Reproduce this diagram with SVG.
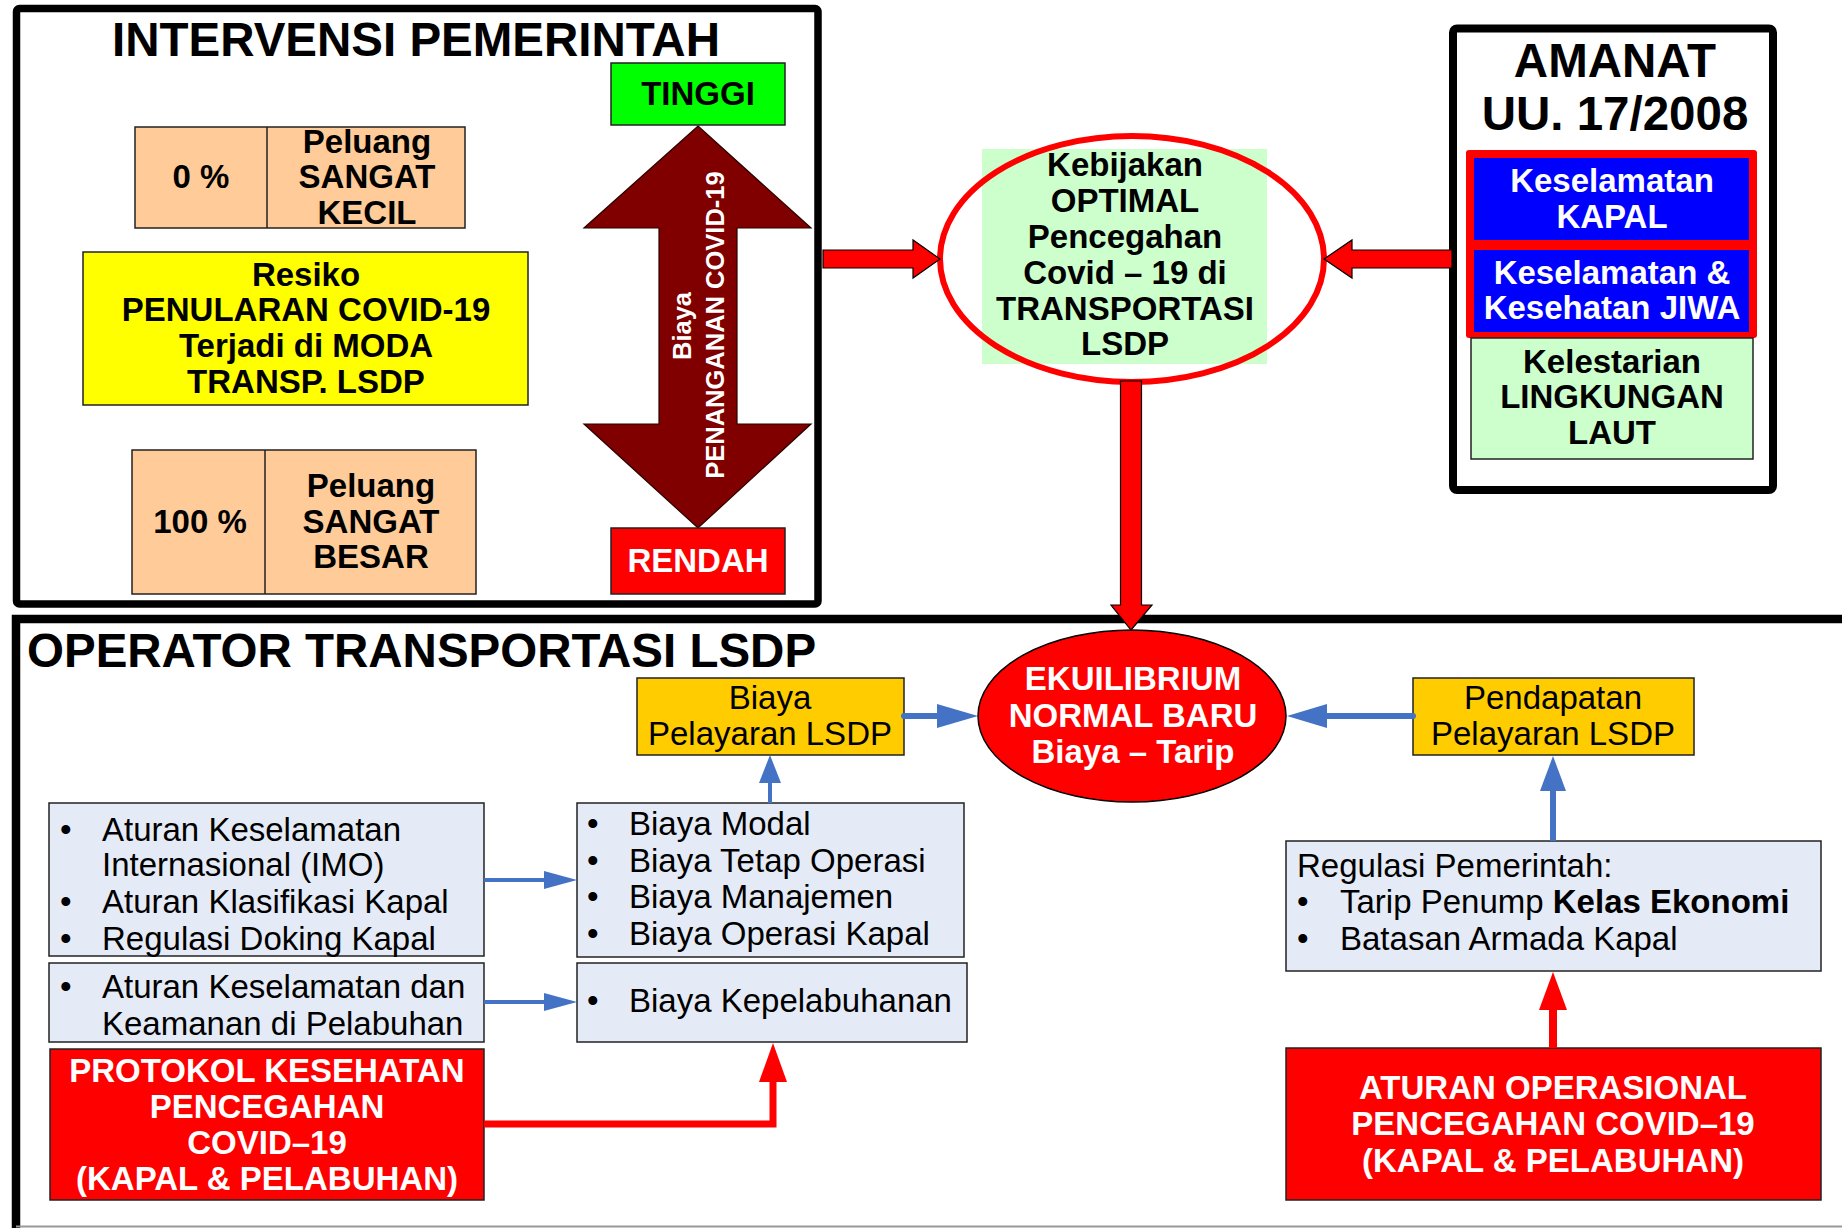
<svg xmlns="http://www.w3.org/2000/svg" width="1842" height="1228" viewBox="0 0 1842 1228">
<style>
text { font-family: "Liberation Sans", Arial, sans-serif; fill: #000; }
.b { font-weight: bold; font-size: 33px; }
.r { font-size: 33px; }
.t { font-weight: bold; font-size: 47.5px; }
.rot { font-weight: bold; font-size: 25.5px; fill: #fff; text-anchor: middle; }
.c { text-anchor: middle; }
.w { fill: #fff; }
.box { stroke: #222; stroke-width: 1.5; }
.peach { fill: #FFCC99; }
.lb { fill: #E5EBF6; }
.gold { fill: #FFCC00; }
.red { fill: #FF0000; }
.blk { fill: none; stroke: #000; }
.blue { stroke: #4472C4; fill: none; }
.bluef { fill: #4472C4; }
.redl { stroke: #FF0000; fill: none; }
.redf { fill: #FF0000; }
.block { fill: #FF0000; stroke: #000; stroke-width: 1.2; }
</style>
<rect width="1842" height="1228" fill="#fff"/>

<!-- frames -->
<g id="frame-intervensi">
  <rect x="16.5" y="8.5" width="801.5" height="595.5" rx="3" class="blk" stroke-width="7.5"/>
  <text class="t c" x="416" y="56">INTERVENSI PEMERINTAH</text>
</g>
<g id="frame-operator">
  <path d="M16,1228 V619 H1842" class="blk" stroke-width="8.5"/>
  <line x1="16" y1="1226.5" x2="1842" y2="1226.5" stroke="#999" stroke-width="2"/>
  <text class="t" x="27" y="667">OPERATOR TRANSPORTASI LSDP</text>
</g>

<!-- top-left nodes -->
<g id="node-peluang-kecil">
  <rect x="135" y="127" width="330" height="101" class="peach box"/>
  <line x1="267" y1="127" x2="267" y2="228" stroke="#222" stroke-width="1.5"/>
  <text class="b c" x="201" y="188">0 %</text>
  <text class="b c" x="367" y="153">Peluang</text>
  <text class="b c" x="367" y="188">SANGAT</text>
  <text class="b c" x="367" y="224">KECIL</text>
</g>
<g id="node-resiko">
  <rect x="83" y="252" width="445" height="153" fill="#FFFF00" class="box"/>
  <text class="b c" x="306" y="286">Resiko</text>
  <text class="b c" x="306" y="321">PENULARAN COVID-19</text>
  <text class="b c" x="306" y="357">Terjadi di MODA</text>
  <text class="b c" x="306" y="393">TRANSP. LSDP</text>
</g>
<g id="node-peluang-besar">
  <rect x="132" y="450" width="344" height="144" class="peach box"/>
  <line x1="265" y1="450" x2="265" y2="594" stroke="#222" stroke-width="1.5"/>
  <text class="b c" x="200" y="533">100 %</text>
  <text class="b c" x="371" y="497">Peluang</text>
  <text class="b c" x="371" y="533">SANGAT</text>
  <text class="b c" x="371" y="568">BESAR</text>
</g>
<g id="node-tinggi">
  <rect x="611" y="63" width="174" height="62" fill="#00FF00" class="box"/>
  <text class="b c" x="698" y="105">TINGGI</text>
</g>
<g id="node-biaya-arrow">
  <polygon points="698,126 811,228 737,228 737,424 811,424 698,528 584,424 659,424 659,228 584,228" fill="#800000" stroke="#2a0000" stroke-width="1.2"/>
  <text class="rot" transform="translate(691,326) rotate(-90)">Biaya</text>
  <text class="rot" transform="translate(724,325) rotate(-90)">PENANGANAN COVID-19</text>
</g>
<g id="node-rendah">
  <rect x="611" y="528" width="174" height="66" class="red box"/>
  <text class="b c w" x="698" y="572">RENDAH</text>
</g>

<!-- policy ellipse -->
<g id="node-kebijakan">
  <ellipse cx="1132" cy="259" rx="192" ry="123" fill="#fff"/>
  <rect x="982" y="149" width="285" height="215" fill="#CCFFCC"/>
  <ellipse cx="1132" cy="259" rx="192" ry="123" fill="none" stroke="#FF0000" stroke-width="6"/>
  <text class="b c" x="1125" y="176">Kebijakan</text>
  <text class="b c" x="1125" y="212">OPTIMAL</text>
  <text class="b c" x="1125" y="248">Pencegahan</text>
  <text class="b c" x="1125" y="284">Covid – 19 di</text>
  <text class="b c" x="1125" y="320">TRANSPORTASI</text>
  <text class="b c" x="1125" y="355">LSDP</text>
</g>

<!-- AMANAT -->
<g id="node-amanat">
  <rect x="1453" y="28.5" width="320" height="461.5" rx="4" fill="#fff" stroke="#000" stroke-width="8"/>
  <text class="t c" x="1615" y="77">AMANAT</text>
  <text class="t c" x="1615" y="130">UU. 17/2008</text>
</g>
<g id="node-keselamatan-group">
  <rect x="1466" y="150" width="291" height="188" rx="3" fill="#FF0000"/>
</g>
<g id="node-keselamatan-kapal">
  <rect x="1474" y="158" width="275" height="82" fill="#0000FF"/>
  <text class="b c w" x="1612" y="192">Keselamatan</text>
  <text class="b c w" x="1612" y="228">KAPAL</text>
</g>
<g id="node-keselamatan-jiwa">
  <rect x="1474" y="250" width="275" height="82" fill="#0000FF"/>
  <text class="b c w" x="1612" y="284">Keselamatan &amp;</text>
  <text class="b c w" x="1612" y="319">Kesehatan JIWA</text>
</g>
<g id="node-lingkungan">
  <rect x="1471" y="338" width="282" height="121" fill="#CCFFCC" class="box"/>
  <text class="b c" x="1612" y="373">Kelestarian</text>
  <text class="b c" x="1612" y="408">LINGKUNGAN</text>
  <text class="b c" x="1612" y="444">LAUT</text>
</g>

<!-- bottom nodes -->
<g id="node-ekuilibrium">
  <ellipse cx="1132" cy="716" rx="154" ry="86" fill="#FF0000" stroke="#000" stroke-width="1.5"/>
  <text class="b c w" x="1133" y="690">EKUILIBRIUM</text>
  <text class="b c w" x="1133" y="727">NORMAL BARU</text>
  <text class="b c w" x="1133" y="763">Biaya – Tarip</text>
</g>
<g id="node-biaya-pelayaran">
  <rect x="637" y="678" width="267" height="77" class="gold box"/>
  <text class="r c" x="770" y="709">Biaya</text>
  <text class="r c" x="770" y="745">Pelayaran LSDP</text>
</g>
<g id="node-pendapatan">
  <rect x="1413" y="678" width="281" height="77" class="gold box"/>
  <text class="r c" x="1553" y="709">Pendapatan</text>
  <text class="r c" x="1553" y="745">Pelayaran LSDP</text>
</g>
<g id="node-aturan-internasional">
  <rect x="49" y="803" width="435" height="153" class="lb box"/>
  <text class="r" x="60" y="841">•</text>
  <text class="r" x="102" y="841">Aturan Keselamatan</text>
  <text class="r" x="102" y="876">Internasional (IMO)</text>
  <text class="r" x="60" y="913">•</text>
  <text class="r" x="102" y="913">Aturan Klasifikasi Kapal</text>
  <text class="r" x="60" y="950">•</text>
  <text class="r" x="102" y="950">Regulasi Doking Kapal</text>
</g>
<g id="node-aturan-pelabuhan">
  <rect x="49" y="963" width="435" height="79" class="lb box"/>
  <text class="r" x="60" y="998">•</text>
  <text class="r" x="102" y="998">Aturan Keselamatan dan</text>
  <text class="r" x="102" y="1035">Keamanan di Pelabuhan</text>
</g>
<g id="node-protokol">
  <rect x="50" y="1049" width="434" height="151" class="red box"/>
  <text class="b c w" x="267" y="1082">PROTOKOL KESEHATAN</text>
  <text class="b c w" x="267" y="1118">PENCEGAHAN</text>
  <text class="b c w" x="267" y="1154">COVID–19</text>
  <text class="b c w" x="267" y="1190">(KAPAL &amp; PELABUHAN)</text>
</g>
<g id="node-biaya-list">
  <rect x="577" y="803" width="387" height="154" class="lb box"/>
  <text class="r" x="587" y="835">•</text>
  <text class="r" x="629" y="835">Biaya Modal</text>
  <text class="r" x="587" y="872">•</text>
  <text class="r" x="629" y="872">Biaya Tetap Operasi</text>
  <text class="r" x="587" y="908">•</text>
  <text class="r" x="629" y="908">Biaya Manajemen</text>
  <text class="r" x="587" y="945">•</text>
  <text class="r" x="629" y="945">Biaya Operasi Kapal</text>
</g>
<g id="node-biaya-kepelabuhanan">
  <rect x="577" y="963" width="390" height="79" class="lb box"/>
  <text class="r" x="587" y="1012">•</text>
  <text class="r" x="629" y="1012">Biaya Kepelabuhanan</text>
</g>
<g id="node-regulasi">
  <rect x="1286" y="841" width="535" height="130" class="lb box"/>
  <text class="r" x="1297" y="877">Regulasi Pemerintah:</text>
  <text class="r" x="1297" y="913">•</text>
  <text class="r" x="1340" y="913">Tarip Penump <tspan font-weight="bold">Kelas Ekonomi</tspan></text>
  <text class="r" x="1297" y="950">•</text>
  <text class="r" x="1340" y="950">Batasan Armada Kapal</text>
</g>
<g id="node-aturan-operasional">
  <rect x="1286" y="1048" width="535" height="152" class="red box"/>
  <text class="b c w" x="1553" y="1099">ATURAN OPERASIONAL</text>
  <text class="b c w" x="1553" y="1135">PENCEGAHAN COVID–19</text>
  <text class="b c w" x="1553" y="1172">(KAPAL &amp; PELABUHAN)</text>
</g>

<!-- connectors -->
<g id="connectors">
  <polygon class="block" points="823,250 913,250 913,240 940,259 913,278 913,268 823,268"/>
  <polygon class="block" points="1452,250 1352,250 1352,240 1324,259 1352,278 1352,268 1452,268"/>
  <polygon class="block" points="1120.5,381 1141.5,381 1141.5,605 1152,605 1131,630 1111,605 1120.5,605"/>

  <line x1="484" y1="880" x2="546" y2="880" class="blue" stroke-width="4"/>
  <polygon class="bluef" points="544,871 577,880 544,889"/>
  <line x1="484" y1="1002" x2="546" y2="1002" class="blue" stroke-width="4"/>
  <polygon class="bluef" points="544,993 577,1002 544,1011"/>
  <line x1="770" y1="803" x2="770" y2="781" class="blue" stroke-width="4"/>
  <polygon class="bluef" points="759,783 770,755 781,783"/>
  <line x1="904" y1="716" x2="939" y2="716" class="blue" stroke-width="6" stroke-linecap="round"/>
  <polygon class="bluef" points="937,704 978,716 937,728"/>
  <line x1="1413" y1="716" x2="1324" y2="716" class="blue" stroke-width="6" stroke-linecap="round"/>
  <polygon class="bluef" points="1327,704 1287,716 1327,728"/>
  <line x1="1553" y1="841" x2="1553" y2="789" class="blue" stroke-width="6"/>
  <polygon class="bluef" points="1540,791 1553,756 1566,791"/>

  <line x1="1553" y1="1048" x2="1553" y2="1008" class="redl" stroke-width="8"/>
  <polygon class="redf" points="1539,1010 1553,972 1567,1010"/>
  <polyline points="484,1124 773,1124 773,1080" class="redl" stroke-width="7"/>
  <polygon class="redf" points="759,1082 773,1043 787,1082"/>
</g>
</svg>
